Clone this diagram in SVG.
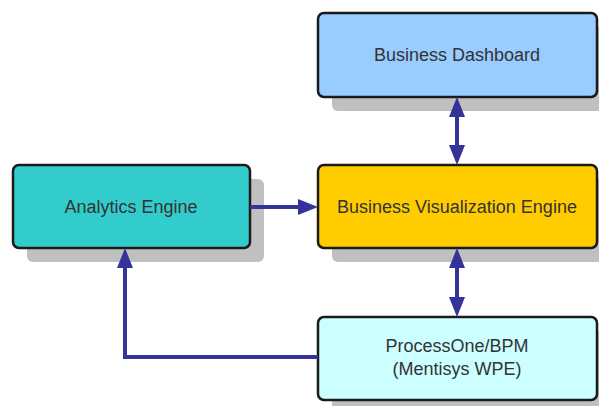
<svg xmlns="http://www.w3.org/2000/svg" width="599" height="406" viewBox="0 0 599 406">
  <style>
    .shadow { fill: #c0c0c0; }
    .box { stroke: #1a1a1a; stroke-width: 2.5; }
    .label { font-family: "Liberation Sans", Arial, sans-serif; font-size: 18px; fill: #333333; text-anchor: middle; }
    .link { fill: none; stroke: #333399; stroke-width: 4; }
  </style>
  <defs>
    <marker id="head" viewBox="0 0 20 16" refX="10" refY="8" markerWidth="20" markerHeight="16" markerUnits="userSpaceOnUse" orient="auto-start-reverse">
      <path d="M0,0 L20,8 L0,16 Z" fill="#333399"/>
    </marker>
  </defs>

  <rect width="599" height="406" fill="#ffffff"/>

  <g id="business-dashboard">
    <rect class="shadow" x="332" y="27" width="279" height="84" rx="6"/>
    <rect class="box" x="318" y="13" width="279" height="84" rx="6" fill="#99ccff"/>
    <text class="label" x="457" y="61">Business Dashboard</text>
  </g>

  <g id="analytics-engine">
    <rect class="shadow" x="27" y="179" width="237" height="83" rx="6"/>
    <rect class="box" x="13" y="165" width="237" height="83" rx="6" fill="#33cccc"/>
    <text class="label" x="131" y="213">Analytics Engine</text>
  </g>

  <g id="business-visualization-engine">
    <rect class="shadow" x="332" y="179" width="279" height="83" rx="6"/>
    <rect class="box" x="318" y="165" width="279" height="83" rx="6" fill="#ffcc00"/>
    <text class="label" x="457" y="213">Business Visualization Engine</text>
  </g>

  <g id="processone-bpm">
    <rect class="shadow" x="332" y="331" width="279" height="83" rx="6"/>
    <rect class="box" x="318" y="317" width="279" height="83" rx="6" fill="#ccffff"/>
    <text class="label" x="457" y="352">ProcessOne/BPM</text>
    <text class="label" x="457" y="375">(Mentisys WPE)</text>
  </g>

  <g id="connectors">
    <line class="link" x1="457" y1="107" x2="457" y2="155" marker-start="url(#head)" marker-end="url(#head)"/>
    <line class="link" x1="457" y1="258" x2="457" y2="307" marker-start="url(#head)" marker-end="url(#head)"/>
    <line class="link" x1="250" y1="207" x2="308" y2="207" marker-end="url(#head)"/>
    <polyline class="link" points="318,357 125,357 125,258" marker-end="url(#head)"/>
  </g>
</svg>
